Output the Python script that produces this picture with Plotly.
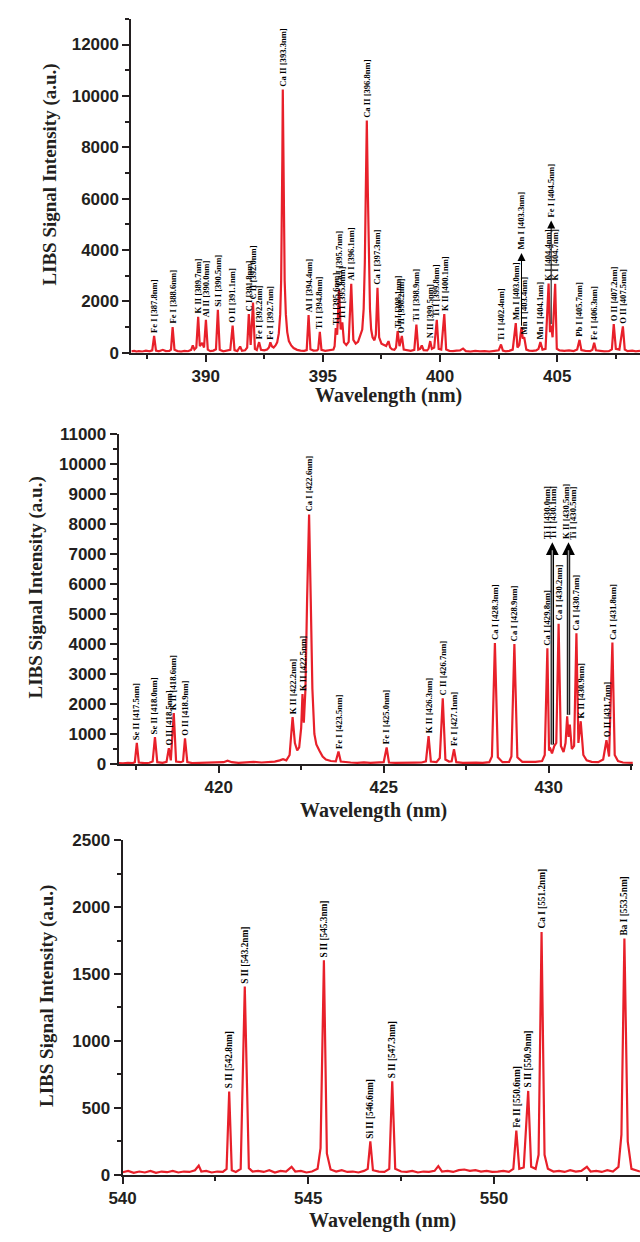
import plotly.graph_objects as go

# ---------------- DATA ----------------
# Panel 1 spectrum (386.8 - 408.5 nm)
wl1 = [386.83, 386.95, 387.05, 387.15, 387.3, 387.45, 387.6, 387.72, 387.8, 387.88,
       388.0, 388.17, 388.3, 388.45, 388.52, 388.59, 388.67, 388.8, 388.95, 389.1,
       389.25, 389.38, 389.45, 389.52, 389.6, 389.68, 389.75, 389.85, 389.93, 390.01,
       390.09, 390.2, 390.33, 390.44, 390.52, 390.6, 390.75, 390.9, 391.05, 391.15,
       391.23, 391.35, 391.47, 391.55, 391.68, 391.77, 391.84, 391.92, 392.02, 392.1,
       392.18, 392.28, 392.36, 392.5, 392.62, 392.7, 392.76, 392.82, 392.9, 392.98,
       393.05, 393.12, 393.18, 393.22, 393.25, 393.27, 393.29, 393.31, 393.34, 393.37,
       393.42, 393.48, 393.55, 393.65, 393.75, 393.9, 394.05, 394.2, 394.31, 394.39,
       394.47, 394.6, 394.75, 394.8, 394.87, 394.94, 395.1, 395.3, 395.45, 395.5,
       395.55, 395.61, 395.69, 395.76, 395.83, 395.9, 396.0, 396.1, 396.21, 396.3,
       396.4, 396.5, 396.56, 396.62, 396.68, 396.74, 396.79, 396.83, 396.875, 396.92,
       396.96, 397.01, 397.06, 397.12, 397.2, 397.26, 397.33, 397.4, 397.5, 397.6,
       397.7, 397.8, 397.87, 397.95, 398.05, 398.12, 398.19, 398.27, 398.37, 398.45,
       398.6, 398.75, 398.9, 398.99, 399.07, 399.15, 399.22, 399.3, 399.45, 399.51,
       399.58, 399.65, 399.75, 399.86, 399.94, 400.05, 400.18, 400.26, 400.4, 400.55,
       400.7, 400.85, 400.98, 401.1, 401.3, 401.5, 401.7, 401.9, 402.1, 402.3,
       402.5, 402.6, 402.68, 402.8, 402.95, 403.1, 403.23, 403.3, 403.38, 403.475,
       403.53, 403.59, 403.68, 403.8, 403.95, 404.1, 404.2, 404.28, 404.37, 404.5,
       404.63, 404.69, 404.74, 404.8, 404.91, 404.98, 405.1, 405.3, 405.5, 405.7,
       405.85, 405.95, 406.03, 406.2, 406.4, 406.5, 406.575, 406.65, 406.8, 407.0,
       407.2, 407.33, 407.41, 407.5, 407.65, 407.8, 407.88, 408.0, 408.2, 408.35,
       408.53]
int1 = [50, 70, 40, 60, 45, 75, 50, 90, 650, 80,
        50, 110, 60, 70, 120, 1000, 110, 60, 40, 70,
        55, 110, 280, 120, 200, 1400, 250, 380, 200, 1280,
        120, 60, 80, 130, 1670, 110, 50, 70, 110, 1050,
        100, 60, 240, 70, 90, 200, 1500, 300, 1950, 150,
        100, 410, 110, 90, 120, 200, 400, 250, 200, 280,
        400, 750, 1500, 2800, 5000, 7500, 10250, 7500, 5000, 2800,
        1500, 800, 450, 280, 180, 110, 80, 70, 100, 1460,
        130, 80, 90, 130, 810, 110, 70, 90, 120, 250,
        960, 700, 2460, 900, 1180, 400, 300, 420, 2680, 500,
        350, 420, 600, 680, 900, 1700, 3500, 6200, 9040, 6200,
        3500, 1700, 900, 600, 480, 700, 2530, 600, 350, 300,
        260, 450, 200, 130, 110, 200, 835, 250, 650, 120,
        80, 70, 110, 1090, 120, 150, 280, 100, 90, 160,
        450, 150, 200, 1280, 150, 120, 1500, 120, 70, 60,
        80, 90, 160, 60, 40, 70, 50, 60, 40, 70,
        90, 320, 80, 50, 70, 120, 1150, 200, 300, 990,
        550, 600, 120, 80, 70, 90, 150, 410, 120, 150,
        2690, 800, 1050, 600, 2680, 150, 90, 70, 90, 60,
        120, 500, 100, 70, 60, 110, 385, 90, 70, 50,
        60, 130, 1115, 150, 120, 1025, 120, 60, 80, 50,
        70]

lbl1_wl = [387.8, 388.59, 389.68, 390.01, 390.52, 391.15, 391.84, 392.02, 392.28, 392.76,
           393.29, 394.39, 394.87, 395.55, 395.69, 395.83, 396.21, 396.875, 397.33, 398.19,
           398.37, 398.99, 399.58, 399.86, 400.18, 402.6, 403.23, 403.475, 403.59, 404.28,
           404.63, 404.74, 404.91, 405.95, 406.575, 407.41, 407.8]
lbl1_int = [650, 1000, 1400, 1280, 1670, 1050, 1500, 1950, 410, 400,
            10250, 1460, 810, 960, 2460, 1180, 2680, 9040, 2530, 835,
            650, 1090, 450, 1280, 1500, 320, 1150, 990, 600, 410,
            2690, 1050, 2680, 500, 385, 1115, 1025]
lbl1_txt = ["Fe I [387.8nm]", "Fe I [388.6nm]", "K II [389.7nm]", "Al II [390.0nm]", "Si I [390.5nm]",
            "O II [391.1nm]", "C I [391.8nm]", "C II [392.0nm]", "Fe I [392.2nm]", "Fe I [392.7nm]",
            "Ca II [393.3nm]", "Al I [394.4nm]", "Ti I [394.8nm]", "Ti I [395.6nm]", "Ca I [395.7nm]",
            "Ti I [395.8nm]", "Al I [396.1nm]", "Ca II [396.8nm]", "Ca I [397.3nm]", "Ti I [398.1nm]",
            "O II [398.2nm]", "Ti I [398.9nm]", "N II [399.5nm]", "Ti I [399.8nm]", "K II [400.1nm]",
            "Ti I [402.4nm]", "Mn I [403.0nm]", "Mn I [403.3nm]", "Mn I [403.4nm]", "Mn I [404.1nm]",
            "K I [404.4nm]", "Fe I [404.5nm]", "K I [404.7nm]", "Pb I [405.7nm]", "Fe I [406.3nm]",
            "O II [407.2nm]", "O II [407.5nm]"]

# Panel 2 spectrum (417 - 432.5 nm)
wl2 = [416.97, 417.1, 417.25, 417.4, 417.46, 417.52, 417.58, 417.75, 417.9, 418.0,
       418.07, 418.14, 418.3, 418.42, 418.49, 418.55, 418.64, 418.71, 418.85, 418.92,
       418.98, 419.05, 419.2, 419.4, 419.6, 419.8, 420.0, 420.15, 420.27, 420.4,
       420.6, 420.8, 421.06, 421.3, 421.5, 421.7, 421.85, 421.95, 422.05, 422.15,
       422.24, 422.31, 422.38, 422.44, 422.5, 422.54, 422.58, 422.63, 422.68, 422.74,
       422.79, 422.84, 422.9, 422.96, 423.05, 423.15, 423.25, 423.4, 423.55, 423.63,
       423.7, 423.85, 424.0, 424.2, 424.4, 424.6, 424.8, 425.0, 425.09, 425.16,
       425.35, 425.55, 425.75, 425.95, 426.15, 426.28, 426.36, 426.43, 426.6, 426.7,
       426.79, 426.87, 426.98, 427.06, 427.13, 427.2, 427.4, 427.6, 427.8, 428.0,
       428.2, 428.28, 428.37, 428.46, 428.6, 428.8, 428.87, 428.96, 429.05, 429.2,
       429.4, 429.6, 429.8, 429.88, 429.96, 430.01, 430.05, 430.1, 430.17, 430.23,
       430.3, 430.37, 430.45, 430.51, 430.56, 430.6, 430.64, 430.7, 430.77, 430.84,
       430.9, 430.97, 431.05, 431.15, 431.3, 431.5, 431.65, 431.75, 431.83, 431.93,
       432.0, 432.1, 432.25, 432.4, 432.55]
int2 = [30, 20, 40, 30, 60, 700, 50, 30, 40, 80,
        900, 60, 40, 70, 525, 120, 1700, 80, 60, 90,
        855, 60, 30, 40, 30, 40, 50, 60, 110, 60,
        40, 55, 70, 50, 60, 80, 120, 160, 120, 300,
        1565, 700, 450, 550, 1200, 2330, 1380, 2500, 5500, 8320,
        5500, 2500, 1000, 650, 450, 250, 150, 100, 90, 415,
        80, 60, 50, 40, 55, 40, 45, 60, 550, 50,
        40, 50, 40, 45, 50, 90, 930, 80, 60, 200,
        2190, 150, 80, 90, 495, 60, 40, 50, 45, 40,
        60, 250, 4030, 220, 60, 70, 250, 4000, 220, 70,
        60, 70, 100, 300, 3855, 450, 500, 350, 600, 700,
        4675, 600, 400, 700, 1590, 900, 1315, 500, 600, 4360,
        700, 1425, 300, 120, 70, 60, 150, 790, 250, 4050,
        300, 100, 50, 40, 40]

lbl2_wl = [417.52, 418.07, 418.49, 418.64, 418.98, 422.24, 422.54, 422.74, 423.63, 425.09,
           426.36, 426.79, 427.13, 428.37, 428.96, 429.96, 430.05, 430.17, 430.3, 430.56,
           430.64, 430.84, 430.97, 431.75, 431.93]
lbl2_int = [700, 900, 525, 1700, 855, 1565, 2330, 8320, 415, 550,
            930, 2190, 495, 4030, 4000, 3855, 500, 600, 4675, 1590,
            1315, 4360, 1425, 790, 4050]
lbl2_txt = ["Se II [417.5nm]", "Se II [418.0nm]", "O II [418.5nm]", "K II [418.6nm]", "O II [418.9nm]",
            "K II [422.2nm]", "K II [422.5nm]", "Ca I [422.6nm]", "Fe I [423.5nm]", "Fe I [425.0nm]",
            "K II [426.3nm]", "C II [426.7nm]", "Fe I [427.1nm]", "Ca I [428.3nm]", "Ca I [428.9nm]",
            "Ca I [429.8nm]", "Ti I [430.0nm]", "Ti I [430.1nm]", "Ca I [430.2nm]", "K II [430.5nm]",
            "Ti I [430.5nm]", "Ca I [430.7nm]", "K II [430.9nm]", "O II [431.7nm]", "Ca I [431.8nm]"]

# Panel 3 spectrum (540 - 554 nm)
wl3 = [540.0, 540.15, 540.3, 540.45, 540.6, 540.75, 540.9, 541.05, 541.2, 541.35,
       541.5, 541.65, 541.8, 541.95, 542.05, 542.12, 542.25, 542.4, 542.55, 542.7,
       542.8, 542.87, 542.94, 543.05, 543.18, 543.29, 543.4, 543.5, 543.65, 543.8,
       543.95, 544.1, 544.25, 544.4, 544.55, 544.65, 544.8, 544.95, 545.1, 545.25,
       545.33, 545.42, 545.5, 545.6, 545.75, 545.9, 546.05, 546.2, 546.35, 546.5,
       546.6, 546.67, 546.74, 546.9, 547.05, 547.18, 547.26, 547.34, 547.5, 547.65,
       547.8, 547.95, 548.1, 548.25, 548.4, 548.5, 548.6, 548.75, 548.9, 549.05,
       549.2, 549.35, 549.5, 549.65, 549.8, 549.95, 550.1, 550.25, 550.4, 550.52,
       550.6, 550.68, 550.8, 550.92, 551.0, 551.12, 551.2, 551.28, 551.36, 551.45,
       551.6, 551.75, 551.9, 552.05, 552.2, 552.35, 552.5, 552.6, 552.75, 552.9,
       553.05, 553.2, 553.35, 553.43, 553.51, 553.6, 553.7, 553.85, 553.93]
int3 = [20, 30, 15, 25, 18, 30, 15, 25, 20, 30,
        18, 25, 22, 35, 70, 25, 30, 18, 25, 22,
        45, 623, 35, 22, 45, 1407, 50, 25, 30, 22,
        35, 18, 30, 25, 60, 25, 30, 18, 25, 45,
        200, 1603, 160, 40, 25, 35, 22, 25, 18, 30,
        45, 250, 35, 25, 22, 45, 698, 45, 25, 22,
        30, 18, 25, 22, 30, 65, 25, 30, 22, 35,
        40, 30, 35, 25, 30, 22, 25, 30, 22, 45,
        331, 45, 55, 627, 60, 45, 150, 1814, 150, 45,
        25, 30, 22, 35, 25, 30, 60, 25, 30, 22,
        35, 25, 60, 300, 1765, 250, 45, 30, 25]

lbl3_wl = [542.87, 543.29, 545.42, 546.67, 547.26, 550.6, 550.92, 551.28, 553.51]
lbl3_int = [623, 1407, 1603, 250, 698, 331, 627, 1814, 1765]
lbl3_txt = ["S II [542.8nm]", "S II [543.2nm]", "S II [545.3nm]", "Si II [546.6nm]", "S II [547.3nm]",
            "Fe II [550.6nm]", "S II [550.9nm]", "Ca I [551.2nm]", "Ba I [553.5nm]"]

# ---------------- STYLE / LAYOUT ----------------
W, H = 640, 1242
RED = "#e8202a"
INK = "#231f20"

def px_x(p):
    return p / W

def px_y(p):
    return 1 - p / H

# arrow groups: (labels sharing one arrow, arrow tip value, style)
arrow_groups1 = [(["Mn I [403.3nm]"], 3880, "single"), (["Fe I [404.5nm]"], 5150, "single")]
arrow_groups2 = [(["Ti I [430.0nm]", "Ti I [430.1nm]"], 7390, "double"),
                 (["K II [430.5nm]", "Ti I [430.5nm]"], 7390, "double")]
# small horizontal label offsets (px) for crowded labels
label_xshift = {"Ti I [430.0nm]": -3, "Ti I [430.1nm]": -1,
                "K II [430.5nm]": -1, "Ti I [430.5nm]": 3}

label_sizes = [8.6, 8.7, 9.3]

fig = go.Figure()
panels = [
    (wl1, int1, lbl1_wl, lbl1_int, lbl1_txt, arrow_groups1, "x", "y"),
    (wl2, int2, lbl2_wl, lbl2_int, lbl2_txt, arrow_groups2, "x2", "y2"),
    (wl3, int3, lbl3_wl, lbl3_int, lbl3_txt, [], "x3", "y3"),
]

annotations = []
for (wl, it, lw, li, lt, groups, xa, ya), lsize in zip(panels, label_sizes):
    label_font = dict(family="Liberation Serif", size=lsize, color="black", weight="bold")
    fig.add_trace(go.Scatter(x=wl, y=it, mode="lines", xaxis=xa, yaxis=ya,
                             line=dict(color=RED, width=2.2), showlegend=False,
                             hoverinfo="skip"))
    tip_of = {}
    for members, tip, style in groups:
        xs = [lw[lt.index(m)] for m in members]
        ys = [li[lt.index(m)] for m in members]
        xm = sum(xs) / len(xs)
        base = max(ys)
        for m in members:
            tip_of[m] = tip
        if style == "single":
            annotations.append(dict(x=xm, y=tip, ax=xm, ay=base, xref=xa, yref=ya,
                                    axref=xa, ayref=ya, text="", showarrow=True,
                                    arrowhead=2, arrowsize=1.6, arrowwidth=1,
                                    arrowcolor="black"))
        else:
            annotations.append(dict(x=xm, y=tip, ax=xm, ay=base, xref=xa, yref=ya,
                                    axref=xa, ayref=ya, text="", showarrow=True,
                                    arrowhead=2, arrowsize=0.75, arrowwidth=3.4,
                                    arrowcolor="black"))
            annotations.append(dict(x=xm, y=tip, ax=xm, ay=base, xref=xa, yref=ya,
                                    axref=xa, ayref=ya, text="", showarrow=True,
                                    arrowhead=0, arrowwidth=1.4, standoff=8,
                                    arrowcolor="#9a9a9a"))
    for x, y, t in zip(lw, li, lt):
        yy = tip_of.get(t, y)
        annotations.append(dict(x=x, y=yy, xref=xa, yref=ya, text=t, showarrow=False,
                                textangle=-90, yanchor="bottom", xanchor="center",
                                xshift=label_xshift.get(t, 0), yshift=1,
                                font=label_font))

# axis titles
title_font = dict(family="Liberation Serif", size=19, color=INK, weight="bold")
xt_font = dict(family="Liberation Serif", size=20, color=INK, weight="bold")
for cx, cy in [(37, 168), (22, 588), (33, 1002)]:
    annotations.append(dict(x=px_x(cx), y=px_y(cy), xref="paper", yref="paper",
                            text="LIBS Signal Intensity (a.u.)", showarrow=False,
                            textangle=-90, font=title_font, xanchor="center", yanchor="middle"))
for cx, cy in [(383, 392), (368, 814), (377, 1230)]:
    annotations.append(dict(x=px_x(cx), y=px_y(cy), xref="paper", yref="paper",
                            text="Wavelength (nm)", showarrow=False,
                            font=xt_font, xanchor="center", yanchor="middle"))

tick_font = dict(family="Liberation Sans", size=17, color=INK, weight="bold")

def xax(dom, rng, anchor):
    return dict(domain=dom, range=rng, anchor=anchor, showline=True, linecolor=INK,
                linewidth=2, ticks="outside", ticklen=7, tickwidth=2, tickcolor=INK,
                dtick=5, tick0=0, showgrid=False, zeroline=False, tickfont=tick_font,
                tickformat="d",
                minor=dict(ticks="outside", ticklen=4, tickwidth=2, tickcolor=INK,
                           dtick=2.5, tick0=0, showgrid=False))

def yax(dom, rng, anchor, dt, mdt):
    return dict(domain=dom, range=rng, anchor=anchor, showline=True, linecolor=INK,
                linewidth=2, ticks="outside", ticklen=7, tickwidth=2, tickcolor=INK,
                dtick=dt, tick0=0, showgrid=False, zeroline=False, tickfont=tick_font,
                tickformat="d",
                minor=dict(ticks="outside", ticklen=4, tickwidth=2, tickcolor=INK,
                           dtick=mdt, tick0=0, showgrid=False))

fig.update_layout(
    width=W, height=H, margin=dict(l=0, r=0, t=0, b=0),
    paper_bgcolor="white", plot_bgcolor="white",
    xaxis=xax([px_x(120), 1.0], [386.83, 408.53], "y"),
    yaxis=yax([px_y(349), px_y(10)], [0, 13000], "x", 2000, 1000),
    xaxis2=xax([px_x(107), px_x(632.7)], [416.97, 432.55], "y2"),
    yaxis2=yax([px_y(766.7), px_y(431.7)], [0, 11000], "x2", 1000, 500),
    xaxis3=xax([px_x(111), 1.0], [540, 553.93], "y3"),
    yaxis3=yax([px_y(1184), px_y(844)], [0, 2500], "x3", 500, 250),
    annotations=annotations,
)

fig.write_html("out.html")
